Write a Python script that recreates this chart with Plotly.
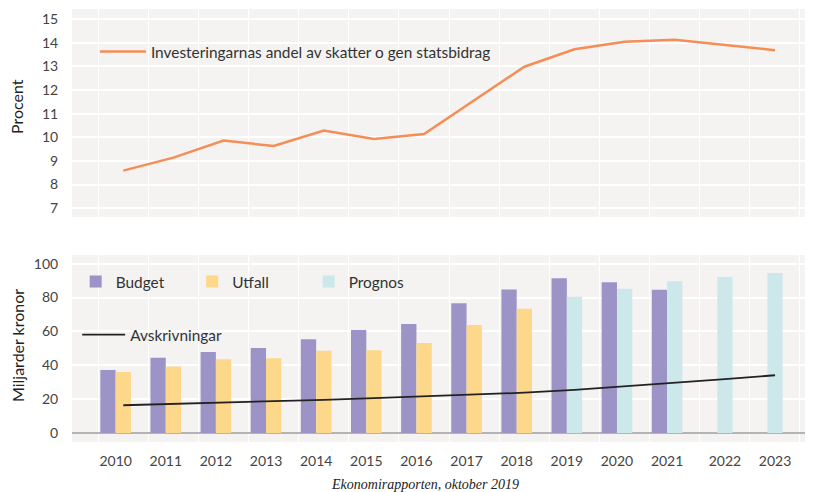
import numpy as np
import plotly.graph_objects as go

# ---- data ----
years = [2010, 2011, 2012, 2013, 2014, 2015, 2016, 2017, 2018, 2019, 2020, 2021, 2022, 2023]
year_labels = [str(y) for y in years]
andel = [8.59, 9.14, 9.86, 9.63, 10.28, 9.93, 10.14, 11.57, 12.98, 13.72, 14.04, 14.12, 13.90, 13.68]
budget = [37.2, 44.5, 47.8, 50.2, 55.3, 60.8, 64.3, 76.6, 84.8, 91.3, 89.0, 84.6, None, None]
utfall = [36.0, 39.2, 43.5, 44.1, 48.6, 48.8, 53.1, 63.8, 73.4, None, None, None, None, None]
prognos = [None, None, None, None, None, None, None, None, None, 80.5, 85.2, 89.6, 92.1, 94.5]
avskrivningar = [16.4, 17.1, 17.9, 18.7, 19.6, 20.6, 21.6, 22.6, 23.8, 25.5, 27.5, 29.5, 31.8, 34.1]
top_ticks = [7, 8, 9, 10, 11, 12, 13, 14, 15]
bottom_ticks = [0, 20, 40, 60, 80, 100]

# ---- styling ----
BW = 0.305
FONT = "Lato"
TXT = "#333333"
BG = "#f4f3f1"

yrs = np.array(years, dtype=float)
xr = yrs + BW / 2  # right-slot centres
tick_pos = [y if y <= 2021 else y + BW / 2 for y in years]
XR = [2009.13, 2023.87]

fig = go.Figure()
fig.add_trace(go.Scatter(x=xr, y=andel, mode="lines",
                         line=dict(color="#f58e55", width=2.5),
                         name="Investeringarnas andel av skatter o gen statsbidrag",
                         xaxis="x", yaxis="y", legend="legend", showlegend=True))
fig.add_trace(go.Bar(x=years, y=budget, width=BW, offset=-BW, name="Budget",
                     marker=dict(color="#9c94c6", line_width=0),
                     xaxis="x2", yaxis="y2", legend="legend2"))
fig.add_trace(go.Bar(x=years, y=utfall, width=BW, offset=0, name="Utfall",
                     marker=dict(color="#fdd88b", line_width=0),
                     xaxis="x2", yaxis="y2", legend="legend2"))
fig.add_trace(go.Bar(x=years, y=prognos, width=BW, offset=0, name="Prognos",
                     marker=dict(color="#cce8ea", line_width=0),
                     xaxis="x2", yaxis="y2", legend="legend2"))
fig.add_trace(go.Scatter(x=xr, y=avskrivningar, mode="lines",
                         line=dict(color="#222222", width=1.8),
                         name="Avskrivningar",
                         xaxis="x2", yaxis="y2", legend="legend3"))

minor = dict(tickmode="linear", tick0=2009.65, dtick=1, showgrid=True,
             gridcolor="white", gridwidth=1, ticks="")
tickfont = dict(family=FONT, size=14, color="#444444")
titlefont = dict(family=FONT, size=16, color="#222222")
legfont = dict(family=FONT, size=15.4, color=TXT)

fig.update_layout(
    width=813, height=492,
    margin=dict(l=64, r=10, t=1, b=58, autoexpand=False),
    paper_bgcolor="white", plot_bgcolor=BG,
    barmode="overlay",
    showlegend=True,
    font=dict(family=FONT, size=14, color=TXT),
    xaxis=dict(domain=[0, 1], range=XR, anchor="y", showticklabels=False,
               showgrid=False, zeroline=False, minor=minor, ticks="",
               automargin=False),
    yaxis=dict(domain=[0.5196, 1], range=[6.63, 15.42], tickvals=top_ticks,
               gridcolor="white", gridwidth=1.5, zeroline=False,
               ticks="outside", ticklen=10, tickcolor="rgba(0,0,0,0)",
               tickfont=tickfont, automargin=False),
    xaxis2=dict(domain=[0, 1], range=XR, anchor="y2", tickvals=tick_pos,
                ticktext=year_labels, showgrid=False, zeroline=False,
                minor=minor, ticks="outside", ticklen=6,
                tickcolor="rgba(0,0,0,0)", tickfont=tickfont, automargin=False),
    yaxis2=dict(domain=[0, 0.4319], range=[-5.3, 105.1], tickvals=bottom_ticks,
                gridcolor="white", gridwidth=1.5,
                zeroline=True, zerolinecolor="#b4b4b4", zerolinewidth=1.5,
                ticks="outside", ticklen=10, tickcolor="rgba(0,0,0,0)",
                tickfont=tickfont, automargin=False),
    legend=dict(x=0.031, y=0.9007, xanchor="left", yanchor="middle",
                itemwidth=46, bgcolor="rgba(0,0,0,0)", font=legfont),
    legend2=dict(x=0.005, y=0.3695, xanchor="left", yanchor="middle",
                 orientation="h", entrywidth=71.5, bgcolor="rgba(0,0,0,0)",
                 font=legfont),
    legend3=dict(x=0.007, y=0.247, xanchor="left", yanchor="middle",
                 itemwidth=43, bgcolor="rgba(0,0,0,0)", font=legfont),
    annotations=[
        dict(text="Procent", xref="paper", yref="paper", x=-0.0744, y=0.7737,
             xanchor="center", yanchor="middle", textangle=-90, showarrow=False,
             font=titlefont),
        dict(text="Miljarder kronor", xref="paper", yref="paper", x=-0.0744, y=0.2217,
             xanchor="center", yanchor="middle", textangle=-90, showarrow=False,
             font=titlefont),
        dict(text="Ekonomirapporten, oktober 2019", xref="paper", yref="paper",
             x=0.4777, y=-0.099, xanchor="center", yanchor="middle",
             showarrow=False,
             font=dict(family="Liberation Serif", size=14, color="#222222",
                       style="italic")),
    ],
)

fig.write_html("out.html")
